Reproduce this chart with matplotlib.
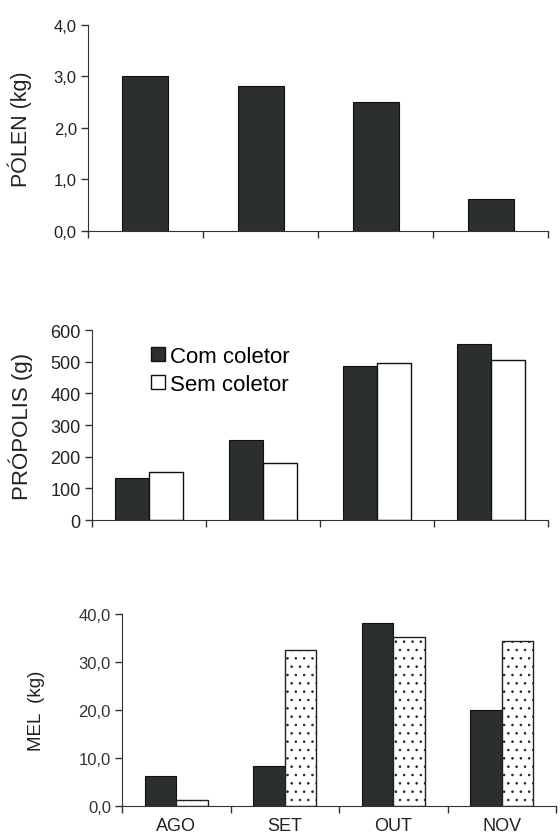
import numpy as np
import matplotlib
matplotlib.use('Agg')
import matplotlib.pyplot as plt
from matplotlib.patches import Patch

plt.rcParams['font.family'] = ['Liberation Sans', 'DejaVu Sans']
plt.rcParams['hatch.linewidth'] = 0.6

meses = ['AGO', 'SET', 'OUT', 'NOV']
polen = [3.0, 2.81, 2.51, 0.63]
propolis_com = [133, 253, 486, 556]
propolis_sem = [152, 180, 496, 505]
mel_com = [6.2, 8.3, 38.2, 20.1]
mel_sem = [1.2, 32.5, 35.3, 34.4]

escuro = '#2b302d'
x = np.arange(len(meses))

fig = plt.figure(figsize=(5.6, 8.37), dpi=100)
ax1 = fig.add_axes([0.157, 0.7228, 0.822, 0.2462])
ax2 = fig.add_axes([0.164, 0.3775, 0.815, 0.227])
ax3 = fig.add_axes([0.218, 0.0358, 0.775, 0.2294])

def estilo(ax):
    ax.spines['top'].set_visible(False)
    ax.spines['right'].set_visible(False)
    ax.spines['left'].set_color('#333333')
    ax.spines['bottom'].set_color('#333333')
    ax.set_xlim(-0.5, len(meses) - 0.5)
    ax.set_xticks(np.arange(len(meses) + 1) - 0.5)
    ax.set_xticklabels([])
    ax.tick_params(axis='both', direction='out', length=5, width=1, colors='#333333')
    ax.tick_params(axis='y', labelsize=12, labelcolor='#222222', pad=3)

# polen
ax1.bar(x, polen, width=0.4, color=escuro, edgecolor='#111111', linewidth=0.8)
estilo(ax1)
ax1.set_ylim(0, 4)
ax1.set_yticks([0, 1, 2, 3, 4])
ax1.set_yticklabels(['0,0', '1,0', '2,0', '3,0', '4,0'])
ax1.set_ylabel('PÓLEN (kg)', fontsize=15.5, color='#222222')
ax1.yaxis.set_label_coords(-0.122, 0.5)

# propolis
w = 0.3
ax2.bar(x - w / 2, propolis_com, width=w, color=escuro, edgecolor='#111111', linewidth=0.8)
ax2.bar(x + w / 2, propolis_sem, width=w, color='white', edgecolor='#111111', linewidth=1.0)
estilo(ax2)
ax2.set_ylim(0, 600)
ax2.set_yticks(range(0, 601, 100))
ax2.tick_params(axis='y', labelsize=13)
ax2.set_ylabel('PRÓPOLIS (g)', fontsize=16, color='#222222')
ax2.yaxis.set_label_coords(-0.13, 0.5)
handles = [Patch(facecolor=escuro, edgecolor='#111111', label='Com coletor'),
           Patch(facecolor='white', edgecolor='#111111', label='Sem coletor')]
ax2.legend(handles=handles, loc='upper left', bbox_to_anchor=(0.13, 0.915), frameon=False,
           fontsize=16, handlelength=0.6, handleheight=0.6, handletextpad=0.25,
           labelspacing=0.3, borderpad=0, borderaxespad=0)

# mel
w = 0.29
ax3.bar(x - w / 2, mel_com, width=w, color=escuro, edgecolor='#111111', linewidth=0.8)
ax3.bar(x + w / 2, mel_sem, width=w, color='white', edgecolor='#222222', linewidth=1.0, hatch='..')
estilo(ax3)
ax3.set_ylim(0, 40)
ax3.set_yticks([0, 10, 20, 30, 40])
ax3.set_yticklabels(['0,0', '10,0', '20,0', '30,0', '40,0'])
ax3.tick_params(axis='y', labelsize=12, labelcolor='#333333')
ax3.set_xticks(x, minor=True)
ax3.set_xticklabels(meses, minor=True)
ax3.tick_params(axis='x', which='minor', length=0, labelsize=13, labelcolor='#222222', pad=8)
ax3.set_ylabel('MEL  (kg)', fontsize=13.5, color='#222222')
ax3.yaxis.set_label_coords(-0.177, 0.5)

fig.savefig('out.png', dpi=100, facecolor='white')
